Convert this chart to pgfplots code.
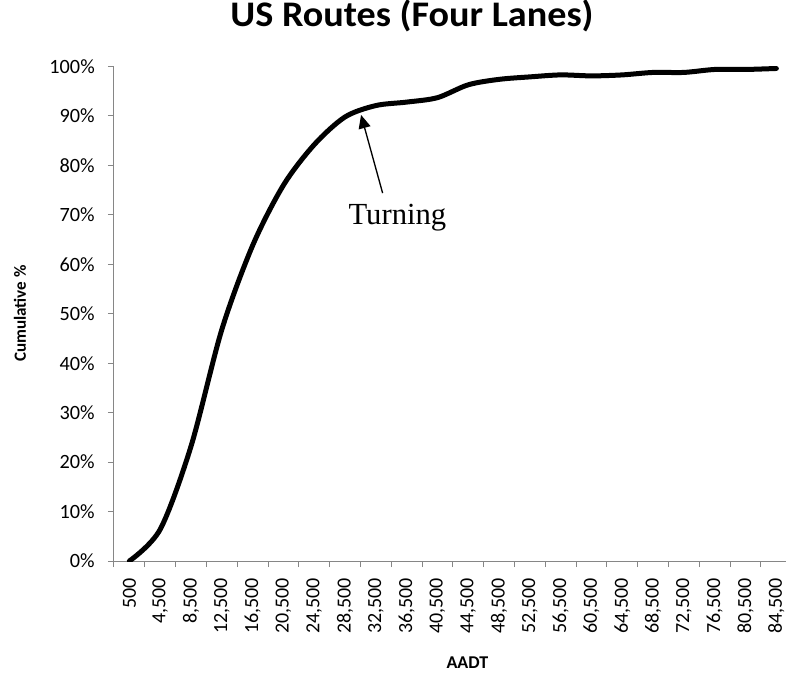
\documentclass[border=0pt]{standalone}
\usepackage{pgfplots}
\pgfplotsset{compat=1.18}
\usepackage{fontspec}
\setmainfont{Carlito}
\newfontfamily\titlefont{Carlito}[FakeStretch=1.06]
\newfontfamily\seriffont{Liberation Serif}
\usetikzlibrary{arrows.meta}
\definecolor{axgray}{RGB}{134,134,134}

\begin{document}
\begin{tikzpicture}
\begin{axis}[
  at={(0pt,0pt)}, anchor=south west,
  scale only axis, width=530.25pt, height=370.875pt,
  xmin=-0.5, xmax=22.45, ymin=0, ymax=100,
  axis lines*=left,
  axis line style={-, draw=axgray, line width=0.75pt},
  tick style={draw=axgray, line width=0.75pt},
  tick align=outside, major tick length=4.5pt,
  xtick={-0.5,0.5,...,21.5},
  x tick label as interval,
  xticklabels={500,{4,500},{8,500},{12,500},{16,500},{20,500},{24,500},{28,500},{32,500},{36,500},{40,500},{44,500},{48,500},{52,500},{56,500},{60,500},{64,500},{68,500},{72,500},{76,500},{80,500},{84,500}},
  xticklabel style={rotate=90, anchor=east, inner sep=0pt, font=\fontsize{15}{16}\selectfont},
  xticklabel shift=8pt,
  ytick={0,10,...,100},
  yticklabels={0\%,10\%,20\%,30\%,40\%,50\%,60\%,70\%,80\%,90\%,100\%},
  yticklabel style={anchor=east, inner sep=0pt, font=\fontsize{15.2}{16}\selectfont},
  yticklabel shift=9.75pt,
  title={US Routes (Four Lanes)},
  title style={at={(axis description cs:0.4215,1.0637)}, anchor=base, inner sep=0pt, font=\titlefont\bfseries\fontsize{27}{30}\selectfont},
  xlabel={AADT},
  xlabel style={at={(axis description cs:0.5,-0.217)}, anchor=base, inner sep=0pt, font=\bfseries\fontsize{13.5}{15}\selectfont},
  ylabel={Cumulative \%},
  ylabel style={at={(axis description cs:-0.133,0.5)}, anchor=center, inner sep=0pt, font=\bfseries\fontsize{12.8}{14}\selectfont},
]
\addplot[black, line width=3.75pt, smooth, line join=round, line cap=round] coordinates {
  (0,0) (1,6.4) (2,23.2) (3,46.8) (4,63.8) (5,76.0) (6,84.2) (7,89.8)
  (8,92.1) (9,92.8) (10,93.7) (11,96.3) (12,97.4) (13,97.9) (14,98.3)
  (15,98.1) (16,98.3) (17,98.8) (18,98.8) (19,99.4) (20,99.4) (21,99.6)
};
\draw[-{Triangle[length=10pt,width=9pt]}, line width=1pt] (axis cs:8.22,74.4) -- (axis cs:7.52,90.2);
\node[font=\seriffont\fontsize{23}{26}\selectfont, anchor=base, inner sep=0pt] at (axis cs:8.7,68.1) {Turning};
\end{axis}
\pgfresetboundingbox
\useasboundingbox (-85.5pt,-85.5pt) rectangle (504pt,420.75pt);
\end{tikzpicture}
\end{document}
